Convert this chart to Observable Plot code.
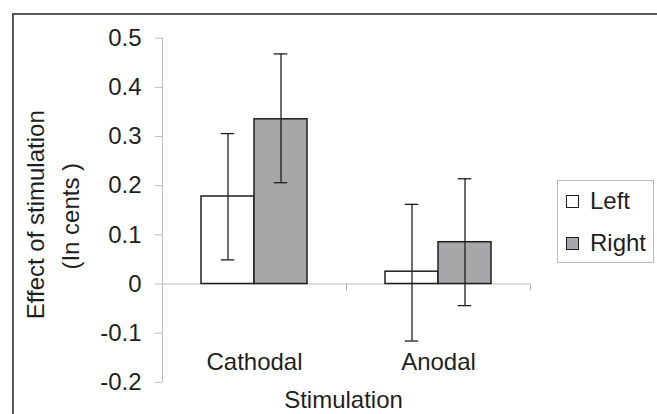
<!DOCTYPE html>
<html><head><meta charset="utf-8">
<script src="https://cdn.jsdelivr.net/npm/d3@7"></script>
<script src="https://cdn.jsdelivr.net/npm/@observablehq/plot@0.6"></script>
<style>
html,body{margin:0;padding:0;background:#fff;}
#wrap{position:relative;width:657px;height:414px;overflow:hidden;font-family:"Liberation Sans",Arial,sans-serif;}
#border{position:absolute;left:12px;top:13px;right:-10px;bottom:-10px;border-top:2px solid #5a5a5a;border-left:2px solid #5a5a5a;}
#chart{position:absolute;left:0;top:0;}
#legend{position:absolute;left:557px;top:180px;width:97px;height:83px;border:1px solid #bbb;box-sizing:border-box;}
.item{position:absolute;left:8px;height:28px;display:flex;align-items:center;font-size:24px;color:#1f1f1f;white-space:nowrap;}
.sw{width:11px;height:11px;border:1px solid #1f1f1f;margin-right:11px;}
</style></head><body>
<div id="wrap"><div id="border"></div><div id="chart"></div><div id="legend"></div></div>
<script>
const categories = ["Cathodal", "Anodal"];
const sides = ["Left", "Right"];
const leftValues = [0.178, 0.025];
const rightValues = [0.335, 0.085];
const leftLow = [0.049, -0.116];
const leftHigh = [0.306, 0.162];
const rightLow = [0.206, -0.044];
const rightHigh = [0.468, 0.214];
const yTicks = [-0.2, -0.1, 0, 0.1, 0.2, 0.3, 0.4, 0.5];
const yLabel = ["Effect of stimulation", "(In cents )"];
const xLabel = "Stimulation";

const sideColors = ["#ffffff", "#a7a7a9"];
const ink = "#1f1f1f";
const axisGrey = "#bdbdbd";
const FONT = '"Liberation Sans", Arial, sans-serif';

const rows = categories.flatMap((c, i) => [
  {stim: c, side: "Left", value: leftValues[i], lo: leftLow[i], hi: leftHigh[i]},
  {stim: c, side: "Right", value: rightValues[i], lo: rightLow[i], hi: rightHigh[i]}
]);

const W = 657, H = 414;
const mL = 161, mR = 127, mT = 37.7, mB = 32.2;
const catW = (W - mL - mR) / categories.length;
const padOuter = 0.724;
const step = catW / (sides.length + 2 * padOuter);
const edge = padOuter * step + step / 2; // from band centre to facet edge
const capInset = (step - 14) / 2;
const tickLen = 7 * (0.7 / (H - mT - mB));

const chart = Plot.plot({
  width: W, height: H,
  marginLeft: mL, marginRight: mR, marginTop: mT, marginBottom: mB,
  style: {fontFamily: FONT, fontSize: "24px", color: ink, background: "transparent", overflow: "visible"},
  fx: {domain: categories, padding: 0, axis: null},
  x: {domain: sides, paddingInner: 0, paddingOuter: padOuter, axis: null},
  y: {domain: [-0.2, 0.5], axis: null},
  color: {domain: sides, range: sideColors},
  marks: [
    Plot.ruleY([0], {stroke: axisGrey, strokeWidth: 1}),
    Plot.ruleX(["Left"], {x: d => d, y1: 0, y2: -tickLen, dx: -edge, stroke: axisGrey}),
    Plot.ruleX(["Right"], {x: d => d, y1: 0, y2: -tickLen, dx: edge, stroke: axisGrey}),
    Plot.ruleX([{stim: categories[0], side: sides[0]}], {fx: "stim", x: "side", dx: -edge, stroke: axisGrey}),
    Plot.axisY({ticks: yTicks, tickFormat: d => d === 0 ? "0" : d.toFixed(1), tickSize: 7, tickPadding: 14, stroke: axisGrey, fill: ink, fontSize: 24, label: null}),
    Plot.barY(rows, {fx: "stim", x: "side", y1: 0, y2: "value", fill: "side", stroke: ink, strokeWidth: 1.5}),
    Plot.ruleX(rows, {fx: "stim", x: "side", y1: "lo", y2: "hi", stroke: ink, strokeWidth: 1.3}),
    Plot.tickY(rows, {fx: "stim", x: "side", y: "hi", insetLeft: capInset, insetRight: capInset, stroke: ink, strokeWidth: 1.3}),
    Plot.tickY(rows, {fx: "stim", x: "side", y: "lo", insetLeft: capInset, insetRight: capInset, stroke: ink, strokeWidth: 1.3}),
    Plot.text(categories, {fx: d => d, text: d => d, frameAnchor: "bottom", lineAnchor: "bottom", dy: -12, fontSize: 24, fill: ink}),
    Plot.text([xLabel], {facet: "super", text: d => d, frameAnchor: "bottom", lineAnchor: "bottom", dy: 26, dx: -3, fontSize: 24, fill: ink}),
    Plot.text([yLabel[0]], {facet: "super", text: d => d, frameAnchor: "left", textAnchor: "middle", rotate: -90, lineAnchor: "bottom", dx: -119, dy: 4.5, fontSize: 24, fill: ink}),
    Plot.text([yLabel[1]], {facet: "super", text: d => d, frameAnchor: "left", textAnchor: "middle", rotate: -90, lineAnchor: "bottom", dx: -84, dy: 6, fontSize: 24, fill: ink})
  ]
});
document.getElementById("chart").appendChild(chart);

const legend = document.getElementById("legend");
const itemTops = [6, 48];
sides.forEach((s, i) => {
  const it = document.createElement("div");
  it.className = "item";
  it.style.top = itemTops[i] + "px";
  const sw = document.createElement("div");
  sw.className = "sw";
  sw.style.background = sideColors[i];
  const tx = document.createElement("span");
  tx.textContent = s;
  it.appendChild(sw); it.appendChild(tx);
  legend.appendChild(it);
});
</script>
</body></html>
